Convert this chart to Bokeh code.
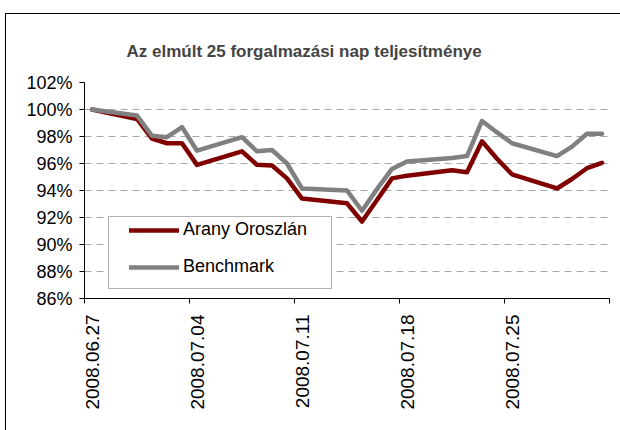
import pandas as pd
from math import pi
from bokeh.plotting import figure
from bokeh.models import (FixedTicker, PrintfTickFormatter, Legend, LegendItem,
                          BoxAnnotation, Range1d, ColumnDataSource)
from bokeh.embed import file_html
from bokeh.resources import INLINE

# ---------------- data ----------------
title_text = "Az elmúlt 25 forgalmazási nap teljesítménye"
series_names = ["Arany Oroszlán", "Benchmark"]
dates = ["2008-06-27", "2008-06-30", "2008-07-01", "2008-07-02", "2008-07-03",
         "2008-07-04", "2008-07-07", "2008-07-08", "2008-07-09", "2008-07-10",
         "2008-07-11", "2008-07-14", "2008-07-15", "2008-07-16", "2008-07-17",
         "2008-07-18", "2008-07-21", "2008-07-22", "2008-07-23", "2008-07-24",
         "2008-07-25", "2008-07-28", "2008-07-29", "2008-07-30", "2008-07-31"]
fund = [100.0, 99.3, 97.85, 97.5, 97.5, 95.9, 96.9, 95.9, 95.85, 94.9,
        93.4, 93.05, 91.7, 93.3, 94.9, 95.1, 95.5, 95.35, 97.65, 96.35,
        95.2, 94.15, 94.85, 95.65, 96.05]
bench = [100.0, 99.55, 98.05, 97.95, 98.7, 96.95, 97.95, 96.9, 97.0, 96.0,
         94.15, 94.0, 92.5, 94.1, 95.6, 96.15, 96.4, 96.55, 99.15, 98.3,
         97.5, 96.55, 97.25, 98.2, 98.2]
y_ticks = [86, 88, 90, 92, 94, 96, 98, 100, 102]
x_tick_dates = ["2008-06-27", "2008-07-04", "2008-07-11", "2008-07-18",
                "2008-07-25", "2008-08-01"]
x_tick_labels = ["2008.06.27", "2008.07.04", "2008.07.11", "2008.07.18",
                 "2008.07.25"]

# ---------------- helpers ----------------
FONT = "Liberation Sans"
HALF_DAY = pd.Timedelta(hours=12)


def ms(ts):
    return int(pd.Timestamp(ts).value // 10**6)


x_pts = [ms(pd.Timestamp(d) + HALF_DAY) for d in dates]
boundary_ms = [ms(d) for d in x_tick_dates]                 # tick marks
label_ms = [ms(pd.Timestamp(d) + HALF_DAY) for d in x_tick_dates[:len(x_tick_labels)]]

src = ColumnDataSource(dict(x=x_pts, fund=fund, bench=bench))

p = figure(x_axis_type="datetime", output_backend="svg", toolbar_location=None,
           frame_width=525, frame_height=216,
           min_border_left=78, min_border_right=11,
           min_border_top=68, min_border_bottom=132,
           x_range=Range1d(boundary_ms[0], boundary_ms[-1]),
           y_range=Range1d(y_ticks[0], y_ticks[-1]))
p.outline_line_color = None
p.background_fill_color = "white"
p.border_fill_color = "white"
p.margin = (13, 0, 0, 5)
p.styles = {"border-top": "1px solid black", "border-left": "1px solid black"}

# title
p.title.text = title_text
p.title.text_font = FONT
p.title.text_font_style = "bold"
p.title.text_font_size = "17px"
p.title.align = "left"
p.title.offset = 42
p.title.standoff = 44

# y axis
p.yaxis.ticker = FixedTicker(ticks=y_ticks)
p.yaxis.formatter = PrintfTickFormatter(format="%d%%")
p.yaxis.major_label_text_font = FONT
p.yaxis.major_label_text_font_size = "18px"
p.yaxis.major_label_text_color = "black"
p.yaxis.axis_line_color = "black"
p.yaxis.major_tick_line_color = "black"
p.yaxis.major_tick_out = 5
p.yaxis.major_tick_in = 0
p.yaxis.minor_tick_line_color = None
p.yaxis.major_label_standoff = 7

# x axis: labels centred on the day, tick marks on the day boundaries
p.xaxis.ticker = FixedTicker(ticks=label_ms, minor_ticks=boundary_ms)
p.xaxis.major_label_overrides = {t: lab for t, lab in zip(label_ms, x_tick_labels)}
p.xaxis.major_label_orientation = pi / 2
p.xaxis.major_label_text_font = FONT
p.xaxis.major_label_text_font_size = "19px"
p.xaxis.major_label_text_color = "black"
p.xaxis.major_label_standoff = 11
p.xaxis.major_tick_line_color = None
p.xaxis.major_tick_out = 0
p.xaxis.major_tick_in = 0
p.xaxis.minor_tick_line_color = "black"
p.xaxis.minor_tick_out = 5
p.xaxis.minor_tick_in = 0
p.xaxis.axis_line_color = "black"

# grid
p.xgrid.visible = False
p.ygrid.ticker = FixedTicker(ticks=y_ticks)
p.ygrid.grid_line_color = "#a6a6a6"
p.ygrid.grid_line_dash = "7 5"
p.ygrid.grid_line_width = 1

# series
r1 = p.line("x", "fund", source=src, line_color="#800000", line_width=4.5,
            line_join="round", line_cap="round")
r2 = p.line("x", "bench", source=src, line_color="#808080", line_width=4.5,
            line_join="round", line_cap="round")

# legend box
p.add_layout(BoxAnnotation(left=101, right=324, top=201, bottom=273,
                           left_units="canvas", right_units="canvas",
                           top_units="canvas", bottom_units="canvas",
                           fill_color="white", fill_alpha=1,
                           line_color="black", line_width=1, level="annotation"))
legend = Legend(items=[LegendItem(label=series_names[0], renderers=[r1]),
                       LegendItem(label=series_names[1], renderers=[r2])],
                location=(45, 21), margin=0, padding=0, spacing=16,
                glyph_width=50, glyph_height=20, label_height=20,
                label_standoff=4, label_text_font=FONT,
                label_text_font_size="18px", label_text_color="black",
                border_line_alpha=0, background_fill_alpha=0)
p.add_layout(legend)

open("out.html", "w").write(file_html(p, INLINE))
